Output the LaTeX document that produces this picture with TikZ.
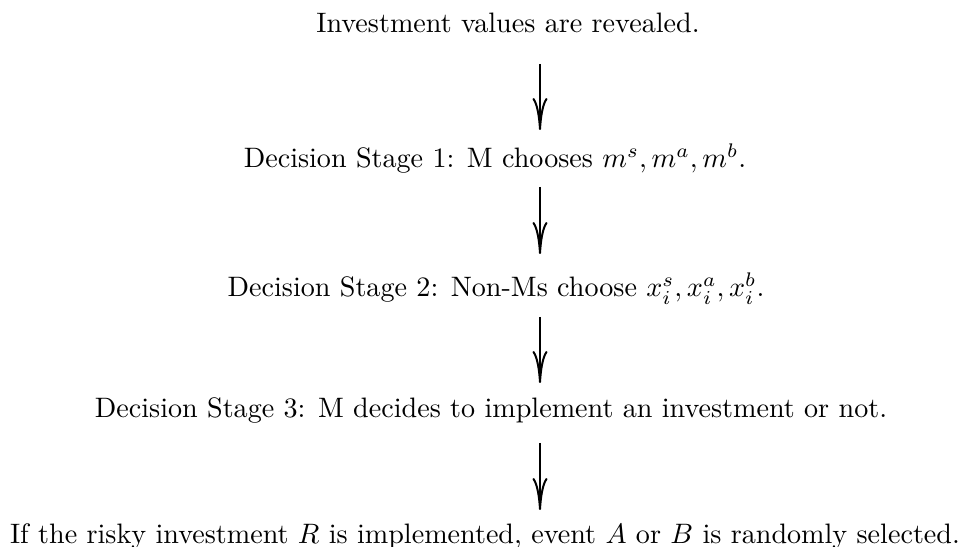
\documentclass[tikz,border=0pt]{standalone}
\usetikzlibrary{arrows.meta}
\newlength\pxu
\begin{document}
\settowidth{\pxu}{If the risky investment $R$ is implemented, event $A$ or $B$ is randomly selected.}%
\setlength{\pxu}{0.0010460\pxu}%
\edef\arrlen{\the\dimexpr32\pxu\relax}%
\edef\arrwid{\the\dimexpr15\pxu\relax}%
\edef\arrlw{\the\dimexpr2\pxu\relax}%
\begin{tikzpicture}
\tikzset{
  txt/.style={anchor=base, inner sep=0pt},
  arr/.style={line width=\arrlw, -{Computer Modern Rightarrow[length=\arrlen,width=\arrwid]}}
}
\begin{scope}[x=\pxu,y=-\pxu]
\useasboundingbox (0,0) rectangle (969,547);
\node[txt] (n1) at (508,33) {Investment values are revealed.};
\node[txt] (n2) at (495,168) {Decision Stage 1: M chooses $m^s, m^a, m^b$.};
\node[txt] (n3) at (496,297) {Decision Stage 2: Non-Ms choose $x_i^s, x_i^a, x_i^b$.};
\node[txt] (n4) at (491,418) {Decision Stage 3: M decides to implement an investment or not.};
\node[txt] (n5) at (485,544) {If the risky investment $R$ is implemented, event $A$ or $B$ is randomly selected.};
\coordinate (a1s) at (540,64);  \coordinate (a1e) at (540,130);
\coordinate (a2s) at (540,187); \coordinate (a2e) at (540,254);
\coordinate (a3s) at (540,317); \coordinate (a3e) at (540,383);
\coordinate (a4s) at (540,443); \coordinate (a4e) at (540,510);
\draw[arr] (a1s) -- (a1e);
\draw[arr] (a2s) -- (a2e);
\draw[arr] (a3s) -- (a3e);
\draw[arr] (a4s) -- (a4e);
\end{scope}
\end{tikzpicture}
\end{document}
